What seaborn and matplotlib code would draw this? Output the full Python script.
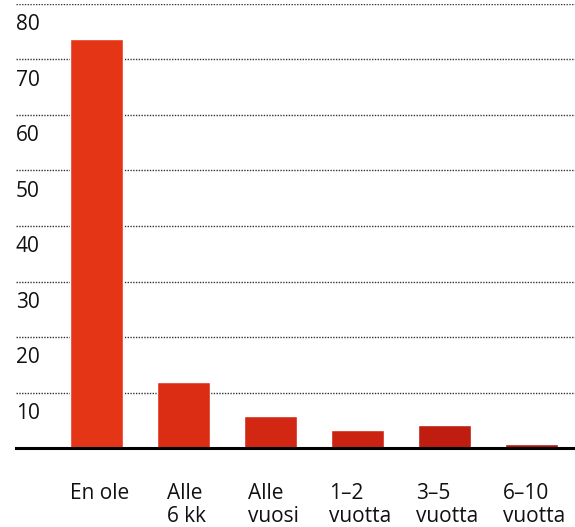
import matplotlib
matplotlib.use("Agg")
import matplotlib.pyplot as plt
import matplotlib.transforms as mtransforms
import seaborn as sns
import pandas as pd

categories = ["En ole", "Alle\n6 kk", "Alle\nvuosi", "1–2\nvuotta", "3–5\nvuotta", "6–10\nvuotta"]
values = [73.7, 11.9, 5.8, 3.2, 4.1, 0.8]
bar_colors = ["#E53517", "#DB2D14", "#D22713", "#CB2312", "#BE1D10", "#B2170F"]
y_ticks = [10, 20, 30, 40, 50, 60, 70, 80]

sns.set_style("white")
plt.rcParams["font.family"] = ["Open Sans", "DejaVu Sans"]

df = pd.DataFrame({"category": categories, "value": values})

fig = plt.figure(figsize=(5.75, 5.27), dpi=100)
W, H = 575, 527
ax = fig.add_axes([16 / W, (H - 448) / H, (W - 16) / W, 444 / H])

sns.barplot(data=df, x="category", y="value", hue="category",
            palette=bar_colors, width=0.62, saturation=1, legend=False, ax=ax)

ax.set_xlim(-0.925, 5.5)
ax.set_ylim(0, 80)
ax.set_yticks(y_ticks)
ax.set_yticklabels([])
ax.tick_params(left=False, bottom=False, labelbottom=False)
ax.grid(axis="y", linestyle=(0, (1, 1)), color="#333333", lw=1.0)
ax.set_axisbelow(True)
for side in ["top", "right", "left"]:
    ax.spines[side].set_visible(False)
ax.spines["bottom"].set_color("black")
ax.spines["bottom"].set_linewidth(2.2)
ax.set_xlabel("")
ax.set_ylabel("")

# y labels sit just under their grid lines
trans = mtransforms.blended_transform_factory(ax.transAxes, ax.transData)
for v in y_ticks:
    ax.annotate(str(v), xy=(0, v), xycoords=trans, xytext=(0, -7.5),
                textcoords="offset points", ha="left", va="top",
                fontsize=15, color="#111111", annotation_clip=False)

# category labels below the axis
for i, lab in enumerate(categories):
    ax.annotate(lab, xy=(i, 0), xycoords="data", xytext=(2, -25),
                textcoords="offset points", ha="center", va="top",
                multialignment="left", fontsize=15, color="#111111",
                linespacing=1.15, annotation_clip=False)

fig.savefig("out.png", dpi=100)
